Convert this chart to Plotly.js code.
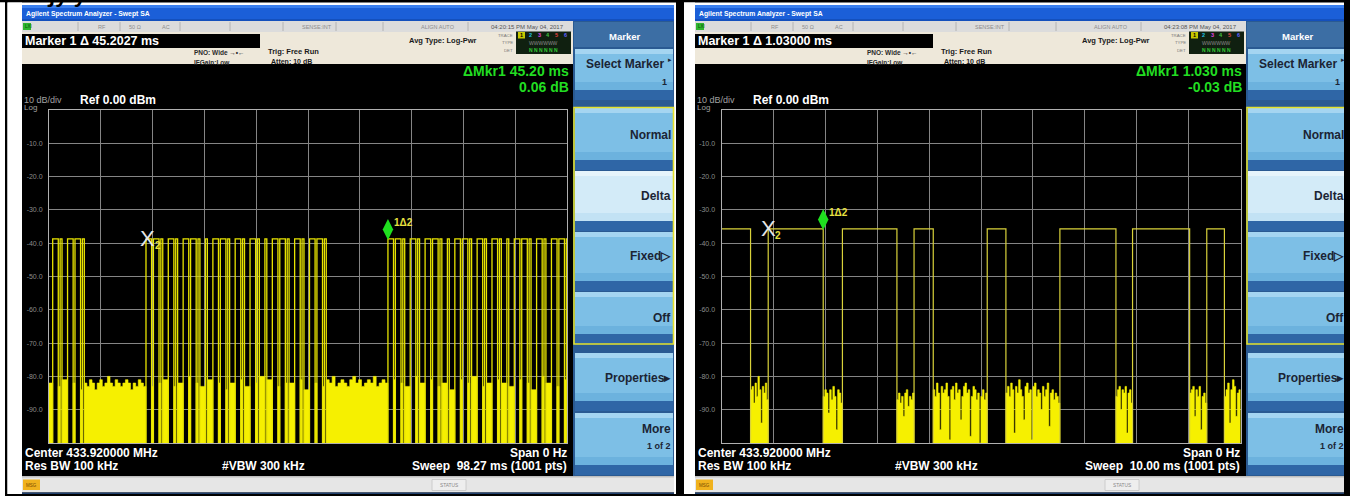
<!DOCTYPE html>
<html>
<head>
<meta charset="utf-8">
<script src="https://cdn.plot.ly/plotly-3.0.1.min.js"></script>
<style>
html,body{margin:0;padding:0;background:#fff;overflow:hidden;}
#chart{width:1355px;height:496px;}
</style>
</head>
<body>
<div id="chart"></div>
<script>
// ================= DATA =================
// Left screen: zero-span, 98.27 ms sweep, repeated OOK transmissions
const sweepL = 98.27;           // ms
const levelL = -38.7;           // dBm, "on" level
const codeL = '1101011001101010011010110';   // long pulse = 1, short pulse = 0
const txStartL = [-27.5, 18.4, 64.3];        // ms, start of each transmission
const bitMsL = 1.41, longMsL = 1.06, shortMsL = 0.36;
// noise-floor peaks in the short "off" gaps (dBm), in order
const gapTopL = [-82,-83,-81,-82,-84,
  -83,-82,-81,-83,-82,-80,-82,-83,-81,-82,-84,-82,-81,-83,-82,-80,-81,-83,-82,-82,-81,-84,-82,-83,
  -81,-82,-83,-80,-82,-81,-83,-82,-84,-81,-82,-80,-83,-82,-81,-82,-83,-81,-82,-84,-80,-82,-83,-81];
// noise-floor envelope in the long pauses between transmissions
const floorL = [
  [-82,-83,-81,-82,-84,-82,-81,-83,-82,-80,-82,-83,-81,-82,-83,-82,-81,-82,-84,-82,-83,-81,-82,-83],
  [-81,-82,-80,-83,-82,-81,-82,-83,-81,-80,-82,-81,-83,-82,-81,-82,-80,-83,-82,-81,-82]
];

// Right screen: zero-span, 10 ms sweep
const sweepR = 10.0;
const levelR = -35.7;
const pulseStartR = [0.00, 0.90, 2.33, 3.71, 5.12, 6.52, 7.92, 9.35];
const pulseEndR   = [0.56, 1.96, 3.38, 4.08, 5.48, 7.60, 9.02, 9.69];
const noiseR = [
  [-84,-83,-88,-82,-86,-80,-84,-94,-83,-85,-82,-87],
  [-86,-84,-85,-91,-84,-87,-83,-86,-96,-84,-85,-88],
  [-87,-85,-88,-86,-92,-85,-84,-89,-86,-87,-85],
  [-84,-86,-82,-85,-96,-83,-85,-84,-82,-86,-99,-84,-83,-87,-82,-85,-84,-93,-86,-83,-82,-85,-84,-98,-86,-83,-84,-87,-85,-100,-86,-84,-87,-85],
  [-85,-83,-86,-82,-84,-97,-83,-85,-81,-84,-86,-93,-83,-82,-85,-84,-99,-83,-82,-86,-84,-85,-90,-83,-86,-84,-82,-95,-85,-84,-87,-85,-86,-88],
  [-86,-84,-83,-90,-84,-85,-83,-97,-85,-84,-88],
  [-85,-84,-83,-92,-84,-86,-83,-96,-86,-85,-88],
  [-86,-84,-82,-94,-84,-81,-83,-92,-85,-84]
];

// markers (ms): X2 = reference marker, 1 = delta marker
const mkr2T = [18.7, 0.90];
const mkr1T = [64.3, 1.96];

// texts
const markerText  = ['Marker 1 \u0394 45.2027 ms', 'Marker 1 \u0394 1.03000 ms'];
const readoutTime = ['\u0394Mkr1 45.20 ms', '\u0394Mkr1 1.030 ms'];
const readoutDb   = ['0.06 dB', '-0.03 dB'];
const clockText   = ['04:20:15 PM May 04, 2017', '04:23:08 PM May 04, 2017'];
const sweepText   = ['Sweep&nbsp;&nbsp;98.27 ms (1001 pts)', 'Sweep&nbsp;&nbsp;10.00 ms (1001 pts)'];
const yTickVals = [-10,-20,-30,-40,-50,-60,-70,-80,-90];
const yTickText = ['-10.0','-20.0','-30.0','-40.0','-50.0','-60.0','-70.0','-80.0','-90.0'];
const softkeys = ['Normal','Delta','Fixed\u25B7','Off','Properties\u25B8'];

// ================= BUILD =================
const W = 1355, H = 496;
const F = 'Liberation Sans, Arial, sans-serif';
const shapes = [], ann = [];
function px(x){return x/W;}
function py(y){return 1-y/H;}
function rect(x0,y0,x1,y1,fill,lc,lw){
  shapes.push({type:'rect',xref:'paper',yref:'paper',x0:px(x0),x1:px(x1),y0:py(y1),y1:py(y0),
    fillcolor:fill||'rgba(0,0,0,0)',line:{width:lw||0,color:lc||'rgba(0,0,0,0)'},layer:'below'});
}
function vline(x,y0,y1,c,w){
  shapes.push({type:'line',xref:'paper',yref:'paper',x0:px(x),x1:px(x),y0:py(y0),y1:py(y1),line:{color:c,width:w||1},layer:'below'});
}
function txt(x,y,s,size,color,anchor,extra){
  ann.push(Object.assign({xref:'paper',yref:'paper',x:px(x),y:py(y),text:s,showarrow:false,
    font:{family:F,size:size,color:color},xanchor:anchor||'left',yanchor:'middle',borderpad:0},extra||{}));
}

function pulsesFromCode(code, starts, bit, lng, sht, sweep){
  const a=[], b=[];
  starts.forEach(s=>{
    for(let k=0;k<code.length;k++){
      let t0 = s + k*bit, t1 = t0 + (code[k]==='1'?lng:sht);
      if(t1<=0 || t0>=sweep) continue;
      a.push(Math.max(0,t0)); b.push(Math.min(sweep,t1));
    }
  });
  return [a,b];
}

function lineTrace(starts, ends, level, sweep, xa, ya, color, width){
  const x=[], y=[];
  for(let i=0;i<starts.length;i++){
    if(starts[i]>0){x.push(starts[i]); y.push(-101);}
    x.push(starts[i]); y.push(level);
    x.push(ends[i]); y.push(level);
    if(ends[i]<sweep){x.push(ends[i]); y.push(-101);}
    x.push(null); y.push(null);
  }
  return {type:'scatter',mode:'lines',x:x,y:y,xaxis:xa,yaxis:ya,line:{color:color,width:width},hoverinfo:'skip',showlegend:false};
}

function lowSegments(starts, ends, sweep){
  const lows=[]; let prev=0;
  for(let i=0;i<starts.length;i++){ if(starts[i]>prev+1e-9) lows.push([prev,starts[i]]); prev=ends[i]; }
  if(prev<sweep-1e-9) lows.push([prev,sweep]);
  return lows;
}

function noiseTrace(lows, valuesFor, xa, ya, color){
  const x=[], y=[];
  lows.forEach((seg,k)=>{
    const v = valuesFor(seg,k); const n=v.length; const w=(seg[1]-seg[0])/n;
    x.push(seg[0]); y.push(-101);
    for(let j=0;j<n;j++){ x.push(seg[0]+j*w); y.push(v[j]); }
    x.push(seg[1]); y.push(-101);
    x.push(null); y.push(null);
  });
  return {type:'scatter',mode:'lines',x:x,y:y,xaxis:xa,yaxis:ya,fill:'toself',fillcolor:color,
    line:{color:color,width:0.6,shape:'hv'},hoverinfo:'skip',showlegend:false};
}

// left traces
const [psL, peL] = pulsesFromCode(codeL, txStartL, bitMsL, longMsL, shortMsL, sweepL);
const lowsL = lowSegments(psL, peL, sweepL);
let gi=0, fi=0;
const noiseLTrace = noiseTrace(lowsL, (seg)=>{
  if(seg[1]-seg[0] > 3) return floorL[(fi++)%floorL.length];
  return [gapTopL[(gi++)%gapTopL.length]];
}, 'x','y','#f6f000');
const lineLTrace = lineTrace(psL, peL, levelL, sweepL, 'x','y','#e8e400',1.3);

// right traces
const lowsR = lowSegments(pulseStartR, pulseEndR, sweepR);
const noiseRTrace = noiseTrace(lowsR, (seg,k)=>noiseR[k%noiseR.length], 'x2','y2','#f6f000');
const lineRTrace = lineTrace(pulseStartR, pulseEndR, levelR, sweepR, 'x2','y2','#d9d23a',1.2);

// marker diamonds
const diamondL = {type:'scatter',mode:'markers',x:[mkr1T[0]],y:[levelL+2.8],xaxis:'x',yaxis:'y',
  marker:{symbol:'diamond-tall',size:15,color:'#1fe01f'},hoverinfo:'skip',showlegend:false};
const diamondR = {type:'scatter',mode:'markers',x:[mkr1T[1]],y:[levelR+2.8],xaxis:'x2',yaxis:'y2',
  marker:{symbol:'diamond-tall',size:15,color:'#1fe01f'},hoverinfo:'skip',showlegend:false};

// ---- chrome for one screen ----
function screen(ox, i){
  rect(ox+22, 5, ox+674, 494, '#000');
  // title bar
  rect(ox+22, 5, ox+674, 21, '#1b5fd8');
  rect(ox+22, 5, ox+674, 8, '#3a7fee');
  rect(ox+22, 19, ox+674, 21, '#1450bd');
  txt(ox+25, 13.5, '<b>Agilent Spectrum Analyzer - Swept SA</b>', 6.8, '#ffffff');
  // status row
  rect(ox+22, 21, ox+573, 32, '#dcdcdc');
  rect(ox+23, 23, ox+31, 30, '#2fb52f');
  txt(ox+24, 26.5, 'LXI', 4.5, '#0a4a0a');
  [78,120,180,230,283,336,383,468].forEach(x=>vline(ox+x,22,31,'#a8a8a8',0.8));
  txt(ox+97, 26.5, 'RF', 5.5, '#8c8c8c');
  txt(ox+128, 26.5, '50 \u03A9', 5.5, '#8c8c8c');
  txt(ox+161, 26.5, 'AC', 5.5, '#8c8c8c');
  txt(ox+333, 26.5, 'SENSE:INT', 5.5, '#8c8c8c', 'right');
  txt(ox+456, 26.5, 'ALIGN AUTO', 5.5, '#8c8c8c', 'right');
  txt(ox+565, 26.5, clockText[i], 6, '#555555', 'right');
  // measurement bar (cream)
  rect(ox+22, 32, ox+573, 64, '#eee8da');
  rect(ox+22, 34, ox+260, 48, '#000000');
  txt(ox+24, 41, '<b>'+markerText[i]+'</b>', 12.5, '#ffffff');
  txt(ox+193, 53, '<b>PNO: Wide \u2192\u2022\u2190</b>', 6.5, '#2a2a2a');
  txt(ox+193, 62.5, '<b>IFGain:Low</b>', 6.5, '#2a2a2a');
  txt(ox+267, 51.5, '<b>Trig: Free Run</b>', 7.5, '#1a1a1a');
  txt(ox+270, 61.5, '<b>Atten: 10 dB</b>', 7, '#1a1a1a');
  txt(ox+478, 41, '<b>Avg Type: Log-Pwr</b>', 7.5, '#1a1a1a', 'right');
  // trace info box
  txt(ox+514, 35, 'TRACE', 4.3, '#777', 'right');
  txt(ox+514, 42.5, 'TYPE', 4.3, '#777', 'right');
  txt(ox+514, 50, 'DET', 4.3, '#777', 'right');
  rect(ox+516, 31.5, ox+571, 54, '#102010');
  rect(ox+518, 32, ox+525, 38.5, '#c8c800');
  const cols = ['#000','#20c0e0','#e040e0','#40c040','#e04040','#6060ff'];
  ['1','2','3','4','5','6'].forEach((d,k)=>txt(ox+521.5+k*8.8, 35.3, '<b>'+d+'</b>', 5.5, cols[k], 'center'));
  txt(ox+543.5, 42.5, 'WWWWWW', 5, '#8a8a8a', 'center');
  txt(ox+543.5, 50, '<b>N N N N N N</b>', 5, '#33cc33', 'center');
  // readout
  txt(ox+570, 71, '<b>'+readoutTime[i]+'</b>', 14, '#22dd22', 'right');
  txt(ox+570, 87, '<b>'+readoutDb[i]+'</b>', 14, '#22dd22', 'right');
  txt(ox+23, 100, '10 dB/div', 9, '#a0a0a0');
  txt(ox+79, 100, '<b>Ref 0.00 dBm</b>', 12, '#ffffff');
  txt(ox+23, 107.5, 'Log', 8, '#a0a0a0');
  // bottom readouts
  txt(ox+24, 453, '<b>Center 433.920000 MHz</b>', 12, '#ffffff');
  txt(ox+24, 466, '<b>Res BW 100 kHz</b>', 12, '#ffffff');
  txt(ox+221, 466, '<b>#VBW 300 kHz</b>', 12, '#ffffff');
  txt(ox+568, 453, '<b>Span 0 Hz</b>', 12, '#ffffff', 'right');
  txt(ox+568, 466, '<b>'+sweepText[i]+'</b>', 12, '#ffffff', 'right');
  // bottom status bar
  rect(ox+22, 476, ox+674, 492.5, '#e6e6e6');
  rect(ox+22, 476, ox+674, 477.5, '#bfbfbf');
  rect(ox+23, 479.5, ox+40, 490, '#f0b21e');
  txt(ox+31.5, 485, 'MSG', 4.5, '#7a4a00', 'center');
  rect(ox+432, 479.5, ox+466, 490.5, '#eeeeee', '#c4c4c4', 0.8);
  txt(ox+449, 485, 'STATUS', 4.8, '#888888', 'center');
  rect(ox+22, 492.5, ox+674, 494, '#22416e');
  // softkey column
  rect(ox+573, 21, ox+674, 476, '#2a5a92');
  rect(ox+574, 22, ox+673, 47, '#3c6ea4');
  txt(ox+624, 36, '<b>Marker</b>', 9.5, '#ffffff', 'center');
  button(ox, 49, 100, false);
  txt(ox+665, 64, '<b>Select Marker</b>', 12, '#1b2434', 'right');
  txt(ox+672.5, 59.5, '\u25B8', 7, '#1b2434', 'right');
  txt(ox+668, 82, '<b>1</b>', 9, '#1b2434', 'right');
  const tops = [108, 171, 232, 292, 353, 413];
  const bots = [170, 231, 291, 344, 411, 475];
  for(let k=0;k<6;k++) button(ox, tops[k], bots[k], k===1);
  const ty = [135, 196, 256, 318, 378];
  softkeys.forEach((s,k)=>txt(ox+672, ty[k], '<b>'+s+'</b>', 12, '#1b2434', 'right'));
  txt(ox+672, 429, '<b>More</b>', 12, '#1b2434', 'right');
  txt(ox+672, 446, '<b>1 of 2</b>', 9, '#1b2434', 'right');
  rect(ox+574, 107.5, ox+673.5, 344, null, '#e4e22c', 1.6);
}
function button(ox, y0, y1, selected){
  const main = selected ? '#d3ebf8' : '#7dbfe6';
  const top  = selected ? '#e6f4fb' : '#a5d5f1';
  const mid  = selected ? '#c2e2f4' : '#6cb2de';
  rect(ox+575, y0, ox+673, y1, main);
  rect(ox+575, y0, ox+673, y0+5, top);
  rect(ox+575, y1-18, ox+673, y1-10, mid);
  rect(ox+575, y1-10, ox+673, y1, '#2f66a6');
}

screen(0, 0);
screen(673, 1);

// outer frame of the two screenshots
rect(0, 0, W, 2.5, '#000');
rect(5, 0, 7.5, 496, '#000');
rect(676, 0, 684, 496, '#000');
rect(1344, 0, 1350, 496, '#000');
rect(5, 494, 1350, 496, '#000');
rect(7.5, 2.5, 22, 494, '#ffffff');
rect(684, 2.5, 695, 494, '#ffffff');
rect(0, 2.5, 5, 496, '#ffffff');
rect(1350, 0, 1355, 496, '#ffffff');
// clipped text from the line above
txt(46, 1, '<b>\u0283y y</b>', 22, '#000000', 'left', {yanchor:'bottom', yshift:-7});

// marker labels (data referenced)
function markerAnn(xr, yr, t, level, t1){
  ann.push({xref:xr,yref:yr,x:t,y:level,text:'X',showarrow:false,font:{family:F,size:22,color:'#e6e6e6'},xanchor:'center',yanchor:'middle'});
  ann.push({xref:xr,yref:yr,x:t,y:level,text:'<b>2</b>',showarrow:false,font:{family:F,size:10,color:'#e8e040'},xanchor:'left',yanchor:'middle',xshift:5,yshift:-7});
  ann.push({xref:xr,yref:yr,x:t1,y:level,text:'<b>1\u03942</b>',showarrow:false,font:{family:F,size:10,color:'#e8e040'},xanchor:'left',yanchor:'middle',xshift:4,yshift:16});
}
markerAnn('x','y',mkr2T[0],levelL,mkr1T[0]);
markerAnn('x2','y2',mkr2T[1],levelR,mkr1T[1]);

function xax(d0,d1,sweep){
  return {domain:[px(d0),px(d1)],range:[0,sweep],tick0:0,dtick:sweep/10,showgrid:true,gridcolor:'#858585',gridwidth:1,
    showticklabels:false,ticks:'',zeroline:false,showline:true,linecolor:'#b0b0b0',linewidth:1,mirror:true,fixedrange:true};
}
function yax(anchor){
  return {domain:[py(443),py(110)],range:[-100,0],tickvals:yTickVals,ticktext:yTickText,showgrid:true,gridcolor:'#858585',gridwidth:1,
    tickfont:{family:F,size:7,color:'#8c8c8c'},ticks:'',ticklabelstandoff:4,zeroline:false,showline:true,linecolor:'#b0b0b0',linewidth:1,mirror:true,
    anchor:anchor,fixedrange:true};
}

const layout = {
  width:W, height:H, margin:{l:0,r:0,t:0,b:0},
  paper_bgcolor:'#ffffff', plot_bgcolor:'rgba(0,0,0,0)',
  font:{family:F},
  showlegend:false,
  xaxis: Object.assign(xax(49,567,sweepL),{anchor:'y'}),
  yaxis: yax('x'),
  xaxis2: Object.assign(xax(721.5,1240.5,sweepR),{anchor:'y2'}),
  yaxis2: yax('x2'),
  shapes: shapes,
  annotations: ann
};

Plotly.newPlot('chart', [noiseLTrace, lineLTrace, diamondL, noiseRTrace, lineRTrace, diamondR], layout, {staticPlot:true, displayModeBar:false});
</script>
</body>
</html>
